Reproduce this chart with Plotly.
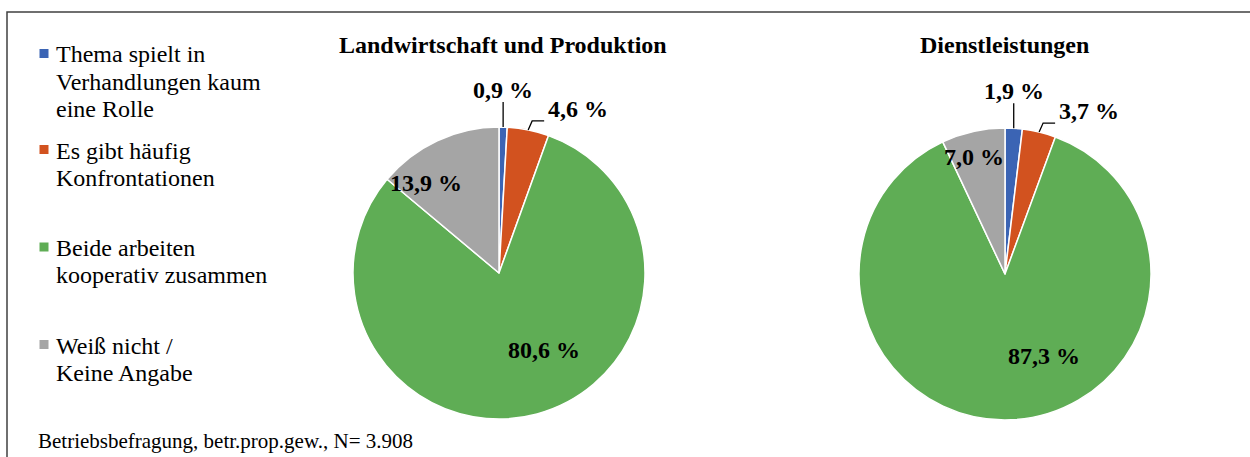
import math
import plotly.graph_objects as go

# ---------------- data ----------------
categories = [
    "Thema spielt in Verhandlungen kaum eine Rolle",
    "Es gibt häufig Konfrontationen",
    "Beide arbeiten kooperativ zusammen",
    "Weiß nicht / Keine Angabe",
]
legend_lines = [
    ["Thema spielt in", "Verhandlungen kaum", "eine Rolle"],
    ["Es gibt häufig", "Konfrontationen"],
    ["Beide arbeiten", "kooperativ zusammen"],
    ["Weiß nicht /", "Keine Angabe"],
]
landwirtschaft = [0.9, 4.6, 80.6, 13.9]
dienstleistungen = [1.9, 3.7, 87.3, 7.0]
panel_titles = ["Landwirtschaft und Produktion", "Dienstleistungen"]
footnote = "Betriebsbefragung, betr.prop.gew., N= 3.908"

# ---------------- style ----------------
colors = ["#3B64B4", "#D2521F", "#5FAD55", "#A5A5A5"]
W, H = 1250, 457
FONT = "Liberation Serif"

# pie geometry in pixels (center x, center y, radius)
pies = [
    dict(values=landwirtschaft, title=panel_titles[0], cx=499, cy=273, r=146, tx=503,
         label_style=["vertical", "elbow", ("inside", 0.61, -15), ("inside", 0.79, -14)]),
    dict(values=dienstleistungen, title=panel_titles[1], cx=1005, cy=274, r=146, tx=1004,
         label_style=["vertical", "elbow", ("inside", 0.62, -23), ("inside", 0.83, -2)]),
]


def X(px):
    return px / W


def Y(py):
    return 1 - py / H


def fmt(v):
    return f"{v:.1f}".replace(".", ",") + " %"


fig = go.Figure()
annotations = []
shapes = []

for p in pies:
    cx, cy, r = p["cx"], p["cy"], p["r"]
    fig.add_trace(go.Pie(
        labels=categories,
        values=p["values"],
        sort=False,
        direction="clockwise",
        rotation=0,
        marker=dict(colors=colors, line=dict(color="white", width=1.5)),
        textinfo="none",
        hoverinfo="label+percent",
        showlegend=False,
        domain=dict(x=[X(cx - r), X(cx + r)], y=[Y(cy + r), Y(cy - r)]),
    ))
    annotations.append(dict(
        x=X(p["tx"]), y=Y(45), xref="paper", yref="paper", text=f"<b>{p['title']}</b>",
        showarrow=False, xanchor="center", yanchor="middle",
        font=dict(family=FONT, size=24, color="black"),
    ))
    total = sum(p["values"])
    cum = 0.0
    for v, style in zip(p["values"], p["label_style"]):
        mid = (cum + v / 2) / total * 360.0
        cum += v
        txt = f"<b>{fmt(v)}</b>"
        lfont = dict(family=FONT, size=24, color="black")
        if style == "vertical":
            a = math.radians(mid)
            ex, ey = cx + r * math.sin(a), cy - r * math.cos(a)
            shapes.append(dict(type="line", xref="paper", yref="paper",
                               x0=X(ex), y0=Y(ey), x1=X(ex), y1=Y(ey - 25),
                               line=dict(color="black", width=1.3)))
            annotations.append(dict(x=X(ex), y=Y(ey - 37), xref="paper", yref="paper",
                                    text=txt, showarrow=False, xanchor="center",
                                    yanchor="middle", font=lfont))
        elif style == "elbow":
            a = math.radians(mid)
            ex, ey = cx + r * math.sin(a), cy - r * math.cos(a)
            p1x, p1y = ex + 4, ey - 9
            p2x = p1x + 12
            shapes.append(dict(type="path", xref="paper", yref="paper",
                               path=f"M {X(ex)} {Y(ey)} L {X(p1x)} {Y(p1y)} L {X(p2x)} {Y(p1y)}",
                               line=dict(color="black", width=1.3)))
            annotations.append(dict(x=X(p2x + 2), y=Y(p1y - 12), xref="paper", yref="paper",
                                    text=txt, showarrow=False, xanchor="left",
                                    yanchor="middle", font=lfont))
        else:
            _, k, delta = style
            a = math.radians(mid + delta)
            tx, ty = cx + k * r * math.sin(a), cy - k * r * math.cos(a)
            annotations.append(dict(x=X(tx), y=Y(ty), xref="paper", yref="paper",
                                    text=txt, showarrow=False, xanchor="center",
                                    yanchor="middle", font=lfont))

# legend (manual, to match the layout)
legend_rows = [53.5, 149.5, 247, 344.5]
LINE_STEP = 27.3
for lines, col, yrow in zip(legend_lines, colors, legend_rows):
    shapes.append(dict(type="rect", xref="paper", yref="paper",
                       x0=X(39.5), x1=X(48.5), y0=Y(yrow + 4.5), y1=Y(yrow - 4.5),
                       fillcolor=col, line=dict(width=0)))
    for i, line in enumerate(lines):
        annotations.append(dict(x=X(54), y=Y(yrow + 1 + i * LINE_STEP), xref="paper", yref="paper",
                                text=line, showarrow=False, xanchor="left", yanchor="middle",
                                align="left", font=dict(family=FONT, size=24, color="black")))

annotations.append(dict(x=X(36), y=Y(441), xref="paper", yref="paper", text=footnote,
                        showarrow=False, xanchor="left", yanchor="middle",
                        font=dict(family=FONT, size=21, color="black")))

# frame
shapes.append(dict(type="rect", xref="paper", yref="paper",
                   x0=X(7), y0=Y(470), x1=X(1262), y1=Y(12),
                   line=dict(color="#404040", width=1.5), fillcolor="rgba(0,0,0,0)"))

fig.update_layout(
    width=W, height=H,
    margin=dict(l=0, r=0, t=0, b=0),
    paper_bgcolor="white", plot_bgcolor="white",
    annotations=annotations, shapes=shapes,
    font=dict(family=FONT),
)

fig.write_html("out.html", config={"displayModeBar": False},
               post_script="document.body.style.margin='0';")
